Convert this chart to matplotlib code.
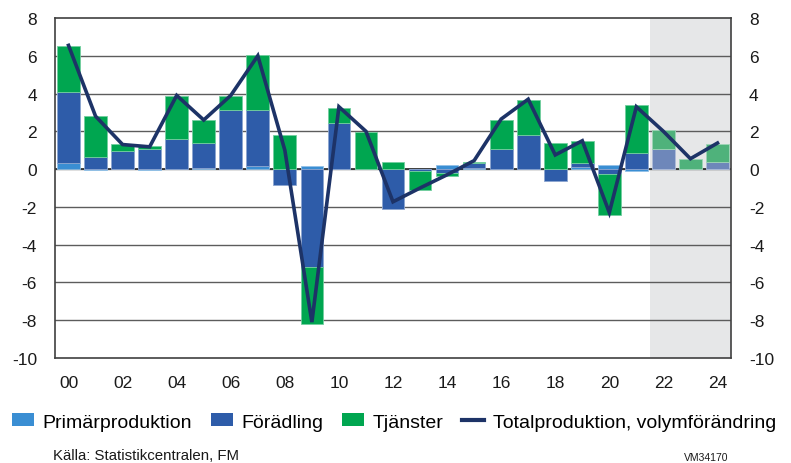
import numpy as np
import matplotlib
matplotlib.use("Agg")
import matplotlib.pyplot as plt
from matplotlib.patches import Patch
from matplotlib.lines import Line2D
from matplotlib.colors import to_rgb

plt.rcParams["font.family"] = ["Liberation Sans", "DejaVu Sans"]
plt.rcParams["axes.unicode_minus"] = False

years = list(range(2000, 2025))
prim = [0.3, -0.05, 0.0, -0.05, 0.0, 0.05, 0.0, 0.15, 0.0, 0.15, 0.0, 0.0, 0.0,
        0.0, 0.2, 0.07, 0.0, 0.0, 0.0, 0.1, 0.2, -0.1, 0.0, 0.0, 0.0]
fora = [3.8, 0.65, 0.97, 1.09, 1.62, 1.31, 3.12, 2.97, -0.83, -5.2, 2.45, 0.0, -2.12,
        -0.09, -0.2, 0.25, 1.09, 1.78, -0.63, 0.2, -0.26, 0.86, 1.09, 0.0, 0.37]
tjan = [2.4, 2.17, 0.35, 0.14, 2.26, 1.22, 0.76, 2.91, 1.83, -3.0, 0.81, 1.95, 0.39,
        -1.0, -0.15, 0.08, 1.52, 1.87, 1.39, 1.18, -2.17, 2.51, 0.97, 0.53, 0.97]
total = [6.55, 2.8, 1.3, 1.18, 3.9, 2.6, 3.9, 6.0, 1.0, -8.1, 3.3, 2.0, -1.73,
         -1.0, -0.3, 0.45, 2.65, 3.7, 0.75, 1.5, -2.3, 3.3, 2.0, 0.55, 1.38]
first_forecast = 2022

names = ["Primärproduktion", "Förädling", "Tjänster"]
colors = ["#3a8ed3", "#2e5ca9", "#00a650"]
fc_colors = ["#7aaad6", "#6e87ba", "#4fb27b"]
line_color = "#1d3367"


def lighten(c, f=0.45):
    r = np.array(to_rgb(c))
    return tuple(r + (1 - r) * f)


fig = plt.figure(figsize=(7.91, 4.64), dpi=100)
ax = fig.add_axes([55 / 791, 1 - 359 / 464, 676 / 791, 340 / 464])

x = np.arange(len(years))
fc = np.array(years) >= first_forecast

ax.axvspan(x[fc][0] - 0.5, x[-1] + 0.5, color="#e6e7e8", zorder=0, lw=0)
for v in range(-8, 8, 2):
    ax.axhline(v, color="#5c5c5c", lw=1.0, zorder=1)
ax.axhline(0, color="#333333", lw=1.3, zorder=1)

pos = np.zeros(len(x))
neg = np.zeros(len(x))
for vals, c, cf in zip([prim, fora, tjan], colors, fc_colors):
    vals = np.array(vals)
    bottom = np.where(vals >= 0, pos, neg)
    cols = [cf if f else c for f in fc]
    ax.bar(x, vals, 0.84, bottom=bottom, color=cols,
           edgecolor=[lighten(cc) for cc in cols], linewidth=0.6, zorder=2)
    pos = pos + np.where(vals > 0, vals, 0)
    neg = neg + np.where(vals < 0, vals, 0)

ax.plot(x, total, color=line_color, lw=2.6, zorder=3, solid_joinstyle="miter")

ax.set_xlim(-0.5, len(x) - 0.5)
ax.set_ylim(-10, 8)
ax.set_yticks(range(-10, 9, 2))
ax.set_xticks(x[::2])
ax.set_xticklabels(["%02d" % (y % 100) for y in years[::2]])
ax.tick_params(axis="both", length=0, labelsize=12.5, colors="#1a1a1a")
ax.tick_params(axis="x", pad=12)
ax.tick_params(axis="y", pad=13, labelright=True, right=False)
for s in ax.spines.values():
    s.set_color("#404040")
    s.set_linewidth(1.2)
    s.set_zorder(4)

handles = [Patch(facecolor=c, edgecolor="none") for c in colors]
handles.append(Line2D([], [], color=line_color, lw=3))
fig.legend(handles, names + ["Totalproduktion, volymförändring"],
           loc="center left", bbox_to_anchor=(12 / 791, 1 - 423 / 464),
           ncol=4, frameon=False, fontsize=14, borderpad=0, borderaxespad=0,
           handlelength=1.13, handleheight=0.6, handletextpad=0.45,
           columnspacing=0.95)

fig.text(53 / 791, 1 - 456 / 464, "Källa: Statistikcentralen, FM",
         fontsize=10.8, va="center", ha="left", color="#1a1a1a")
fig.text(684 / 791, 1 - 458 / 464, "VM34170", fontsize=7.5,
         va="center", ha="left", color="#1a1a1a")

fig.savefig("out.png", dpi=100)
